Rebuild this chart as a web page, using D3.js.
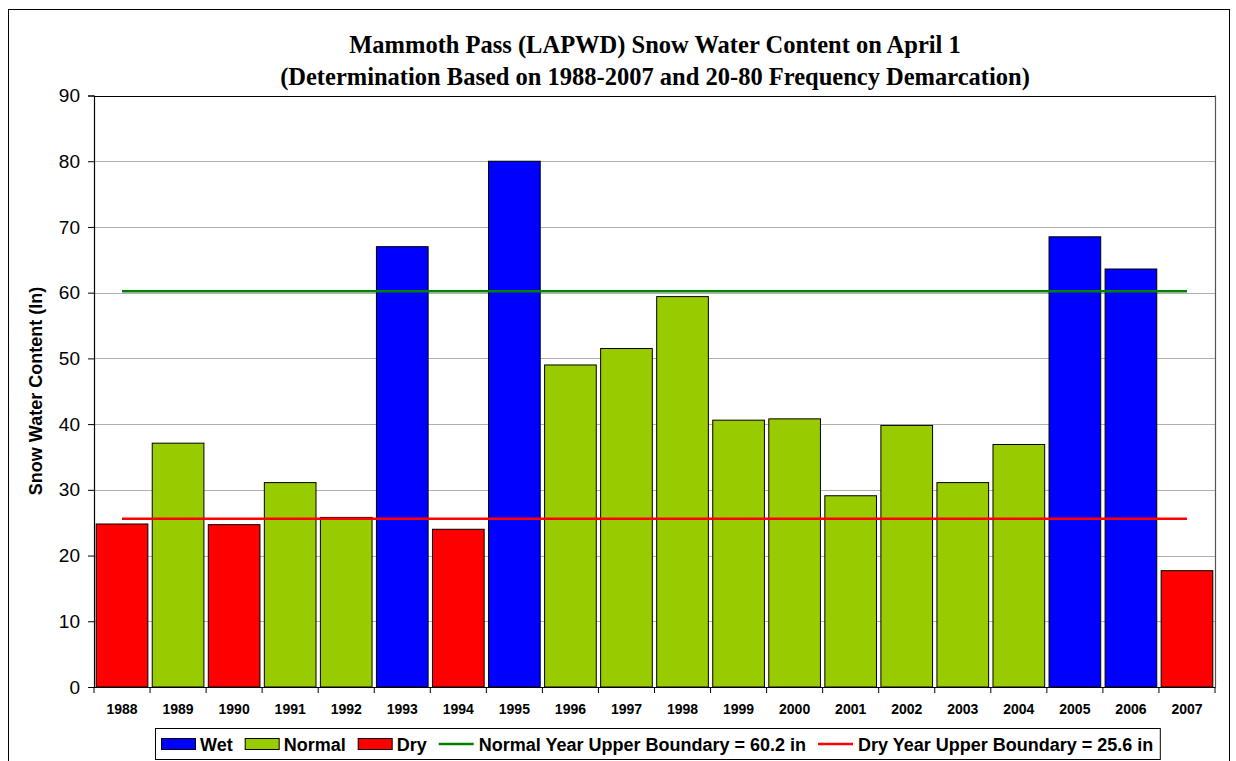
<!DOCTYPE html>
<meta charset="utf-8">
<style>
body { margin: 0; background: #fff; }
svg { display: block; }
.ytick text { font-family: Arial, "Liberation Sans", sans-serif; font-size: 19px; fill: #000; }
.xtick text { font-family: Arial, "Liberation Sans", sans-serif; font-size: 14px; font-weight: bold; fill: #000; }
.legend text { font-family: Arial, "Liberation Sans", sans-serif; font-size: 18px; font-weight: bold; fill: #000; }
</style>
<svg width="1236" height="761"></svg>
<script src="https://cdn.jsdelivr.net/npm/d3@7"></script>
<script>

var years = ["1988","1989","1990","1991","1992","1993","1994","1995","1996","1997",
             "1998","1999","2000","2001","2002","2003","2004","2005","2006","2007"];
var swc = [24.8, 37.1, 24.7, 31.1, 25.8, 67.0, 24.0, 80.0, 49.0, 51.5,
           59.4, 40.6, 40.8, 29.1, 39.8, 31.1, 36.9, 68.5, 63.6, 17.7];
var yearType = ["Dry","Normal","Dry","Normal","Normal","Wet","Dry","Wet","Normal","Normal",
                "Normal","Normal","Normal","Normal","Normal","Normal","Normal","Wet","Wet","Dry"];
var types = ["Wet", "Normal", "Dry"];
var typeColors = ["#0000ff", "#99cc00", "#ff0000"];
var normalUpper = 60.2, dryUpper = 25.6;
var yTicks = [0, 10, 20, 30, 40, 50, 60, 70, 80, 90];
var titleLines = ["Mammoth Pass (LAPWD) Snow Water Content on April 1",
                  "(Determination Based on 1988-2007 and 20-80 Frequency Demarcation)"];

var svg = d3.select("svg");
var plot = {left: 94, right: 1215, top: 95.5, bottom: 687};

var color = d3.scaleOrdinal().domain(types).range(typeColors);

var x = d3.scaleBand()
  .domain(years)
  .range([plot.left, plot.right])
  .paddingInner(0.078)
  .paddingOuter(0.039);

var y = d3.scaleLinear()
  .domain([0, 90])
  .range([plot.bottom, plot.top]);

// outer chart border
svg.append("rect")
  .attr("x", 8.5).attr("y", 9.5)
  .attr("width", 1221).attr("height", 800)
  .attr("fill", "none").attr("stroke", "#000").attr("stroke-width", 1);

// title
svg.append("g").selectAll("text")
  .data(titleLines)
  .enter().append("text")
  .attr("x", 655)
  .attr("y", function(d, i) { return 53 + i * 32; })
  .attr("text-anchor", "middle")
  .style("font-family", "'Times New Roman', 'Liberation Serif', serif")
  .style("font-weight", "bold")
  .style("font-size", "24.5px")
  .text(function(d) { return d; });

// gridlines
svg.append("g")
  .selectAll("line")
  .data(yTicks.filter(function(d) { return d > 0; }))
  .enter().append("line")
  .attr("x1", plot.left).attr("x2", plot.right)
  .attr("y1", function(d) { return Math.round(y(d)) + 0.5; })
  .attr("y2", function(d) { return Math.round(y(d)) + 0.5; })
  .attr("stroke", function(d) { return d === 90 ? "#000" : "#b0b0b0"; })
  .attr("stroke-width", 1.2);

// right frame of plot area
svg.append("line")
  .attr("x1", plot.right + 0.5).attr("x2", plot.right + 0.5)
  .attr("y1", plot.top).attr("y2", plot.bottom)
  .attr("stroke", "#555").attr("stroke-width", 1.2);

// bars
svg.append("g")
  .selectAll("rect")
  .data(years)
  .enter().append("rect")
  .attr("x", function(d) { return x(d); })
  .attr("y", function(d, i) { return y(swc[i]); })
  .attr("width", x.bandwidth())
  .attr("height", function(d, i) { return y(0) - y(swc[i]); })
  .attr("fill", function(d, i) { return color(yearType[i]); })
  .attr("stroke", "#000")
  .attr("stroke-width", 1);

// boundary lines, from first category centre to last
var half = x.bandwidth() / 2;
var bounds = [{v: normalUpper, c: "#008000"}, {v: dryUpper, c: "#ff0000"}];
svg.append("g")
  .selectAll("line")
  .data(bounds)
  .enter().append("line")
  .attr("x1", x(years[0]) + half)
  .attr("x2", x(years[years.length - 1]) + half)
  .attr("y1", function(d) { return y(d.v); })
  .attr("y2", function(d) { return y(d.v); })
  .attr("stroke", function(d) { return d.c; })
  .attr("stroke-width", 2.5);

// y axis
var yAxis = svg.append("g")
  .attr("class", "ytick")
  .attr("transform", "translate(" + plot.left + ",0)")
  .call(d3.axisLeft(y).tickValues(yTicks).tickSize(6).tickPadding(8));
yAxis.select(".domain").attr("stroke", "#000").attr("stroke-width", 1.2);
yAxis.selectAll(".tick line").attr("stroke", "#000");

// x axis: ticks at category boundaries
var xAxis = svg.append("g")
  .attr("class", "xtick")
  .attr("transform", "translate(0," + plot.bottom + ")")
  .call(d3.axisBottom(x).tickSize(0).tickPadding(17));
xAxis.select(".domain").attr("stroke", "#000").attr("stroke-width", 1.2);
var step = x.step();
svg.append("g")
  .selectAll("line")
  .data(years.concat(["end"]))
  .enter().append("line")
  .attr("x1", function(d, i) { return plot.left + x.paddingOuter() * step - x.paddingInner() * step / 2 + i * step; })
  .attr("x2", function(d, i) { return plot.left + x.paddingOuter() * step - x.paddingInner() * step / 2 + i * step; })
  .attr("y1", plot.bottom).attr("y2", plot.bottom + 6)
  .attr("stroke", "#000");

// y axis title
svg.append("text")
  .attr("transform", "translate(42,391) rotate(-90)")
  .attr("text-anchor", "middle")
  .style("font-family", "Arial, 'Liberation Sans', sans-serif")
  .style("font-weight", "bold")
  .style("font-size", "18px")
  .text("Snow Water Content (In)");

// legend
var legendItems = [
  {label: "Wet", kind: "box", c: color("Wet")},
  {label: "Normal", kind: "box", c: color("Normal")},
  {label: "Dry", kind: "box", c: color("Dry")},
  {label: "Normal Year Upper Boundary = " + normalUpper + " in", kind: "line", c: "#008000"},
  {label: "Dry Year Upper Boundary = " + dryUpper + " in", kind: "line", c: "#ff0000"}
];
var legend = svg.append("g").attr("class", "legend");
var lgBox = legend.append("rect")
  .attr("x", 155.5).attr("y", 728.5).attr("height", 31)
  .attr("fill", "#fff").attr("stroke", "#000");
var cx = 161, cy = 744;
legendItems.forEach(function(d) {
  if (d.kind === "box") {
    legend.append("rect")
      .attr("x", cx + 0.5).attr("y", cy - 5.5)
      .attr("width", 34).attr("height", 11)
      .attr("fill", d.c).attr("stroke", "#000");
    cx += 39;
  } else {
    legend.append("line")
      .attr("x1", cx).attr("x2", cx + 35)
      .attr("y1", cy).attr("y2", cy)
      .attr("stroke", d.c).attr("stroke-width", 2.5);
    cx += 40;
  }
  var t = legend.append("text")
    .attr("x", cx).attr("y", cy + 6.5)
    .text(d.label);
  cx += t.node().getComputedTextLength() + 12;
});
lgBox.attr("width", cx - 155.5 - 5);

</script>
